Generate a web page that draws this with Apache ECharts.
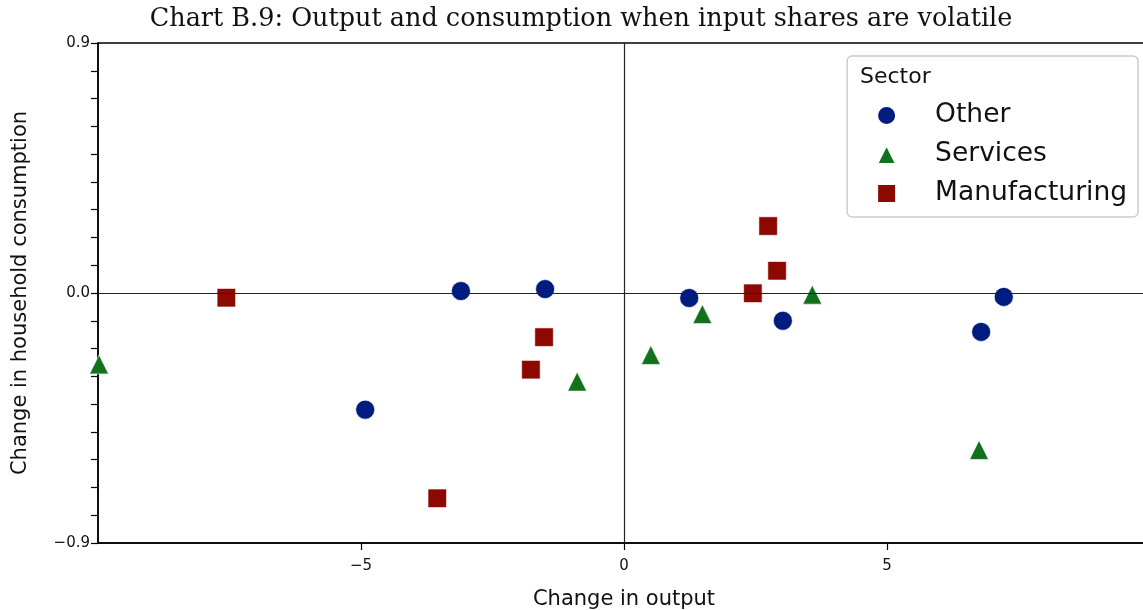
<!DOCTYPE html>
<html>
<head>
<meta charset="utf-8">
<script src="https://cdn.jsdelivr.net/npm/echarts@6/dist/echarts.min.js"></script>
<style>
  html, body { margin: 0; padding: 0; background: #fff; }
  #main { width: 1143px; height: 610px; }
</style>
</head>
<body>
<div id="main"></div>
<script>
// values
const otherX = [-4.92, -3.10, -1.50, 1.24, 3.02, 6.79, 7.22];
const otherY = [-0.42, 0.007, 0.014, -0.018, -0.10, -0.14, -0.014];
const servicesX = [-9.98, -0.89, 0.51, 1.49, 3.58, 6.75];
const servicesY = [-0.257, -0.319, -0.223, -0.076, -0.006, -0.565];
const manufX = [-7.56, -3.55, -1.77, -1.52, 2.45, 2.74, 2.91];
const manufY = [-0.017, -0.739, -0.276, -0.159, -0.001, 0.241, 0.080];

const sectorNames = ['Other', 'Services', 'Manufacturing'];
const xTickLabels = [-5, 0, 5];
const yTickLabels = [-0.9, 0, 0.9];
const yTicks = [-0.9, -0.8, -0.7, -0.6, -0.5, -0.4, -0.3, -0.2, -0.1, 0, 0.1, 0.2, 0.3, 0.4, 0.5, 0.6, 0.7, 0.8, 0.9];

function pairs(xs, ys) {
  return xs.map((x, i) => [x, ys[i]]);
}
function fmtMinus(v, digits) {
  let s = Math.abs(v).toFixed(digits);
  return v < 0 ? '\u2212' + s : s;
}

const chart = echarts.init(document.getElementById('main'));

const markerStyle = (c) => ({ color: c, borderColor: '#fff', borderWidth: 0.6, opacity: 1 });

const option = {
  animation: false,
  title: [{
    text: 'Chart B.9: Output and consumption when input shares are volatile',
    left: 581,
    textAlign: 'center',
    top: 6,
    padding: 0,
    textStyle: { fontFamily: 'DejaVu Serif', fontSize: 25.5, fontWeight: 'normal', color: '#111' }
  }, {
    text: 'Sector',
    left: 860,
    top: 66,
    padding: 0,
    textStyle: { fontFamily: 'DejaVu Sans', fontSize: 22, fontWeight: 'normal', color: '#111' }
  }],
  legend: {
    data: sectorNames,
    orient: 'vertical',
    right: 5,
    top: 56,
    padding: [46, 11, 10, 29],
    itemWidth: 19,
    itemHeight: 19,
    itemGap: 12,
    backgroundColor: '#fff',
    borderColor: '#cccccc',
    borderWidth: 1.5,
    borderRadius: 5,
    textStyle: { fontFamily: 'DejaVu Sans', fontSize: 26.5, color: '#111', padding: [0, 0, 0, 34] }
  },
  grid: {
    left: 98, top: 43, right: -7, bottom: 67,
    outerBoundsMode: 'none',
    show: true, borderColor: '#000', borderWidth: 1.5
  },
  xAxis: {
    type: 'value',
    min: -10, max: 10,
    name: 'Change in output',
    nameLocation: 'middle',
    nameGap: 46,
    nameTextStyle: { fontFamily: 'DejaVu Sans', fontSize: 21, color: '#111' },
    axisLine: { show: true, onZero: false, lineStyle: { color: '#000', width: 1.5 } },
    axisTick: { show: true, length: 7, customValues: xTickLabels, lineStyle: { color: '#000', width: 1.2 } },
    axisLabel: {
      customValues: xTickLabels, margin: 16,
      fontFamily: 'DejaVu Sans', fontSize: 15, color: '#111',
      formatter: (v) => fmtMinus(v, 0)
    },
    splitLine: { show: false }
  },
  yAxis: {
    type: 'value',
    min: -0.9, max: 0.9,
    name: 'Change in household consumption',
    nameLocation: 'middle',
    nameGap: 67,
    nameTextStyle: { fontFamily: 'DejaVu Sans', fontSize: 21, color: '#111' },
    axisLine: { show: true, onZero: false, lineStyle: { color: '#000', width: 1.5 } },
    axisTick: { show: true, length: 7, customValues: yTicks, lineStyle: { color: '#000', width: 1.2 } },
    axisLabel: {
      customValues: yTickLabels, margin: 8,
      fontFamily: 'DejaVu Sans', fontSize: 15, color: '#111',
      formatter: (v) => fmtMinus(v, 1)
    },
    splitLine: { show: false }
  },
  series: [{
    // zero reference lines
    name: 'zero',
    type: 'scatter',
    data: [],
    z: 1,
    markLine: {
      silent: true,
      symbol: 'none',
      label: { show: false },
      lineStyle: { color: '#222', width: 1.2, type: 'solid' },
      data: [{ xAxis: 0 }, { yAxis: 0 }]
    }
  }, {
    name: 'Other',
    type: 'scatter',
    symbol: 'circle',
    symbolSize: 19,
    z: 3,
    itemStyle: markerStyle('#001c7f'),
    data: pairs(otherX, otherY)
  }, {
    name: 'Services',
    type: 'scatter',
    symbol: 'triangle',
    symbolSize: 19,
    z: 3,
    itemStyle: markerStyle('#12711c'),
    data: pairs(servicesX, servicesY)
  }, {
    name: 'Manufacturing',
    type: 'scatter',
    symbol: 'rect',
    symbolSize: 18.5,
    z: 3,
    itemStyle: markerStyle('#8c0800'),
    data: pairs(manufX, manufY)
  }]
};

chart.setOption(option);
window.onresize = function () { chart.resize(); };
</script>
</body>
</html>
